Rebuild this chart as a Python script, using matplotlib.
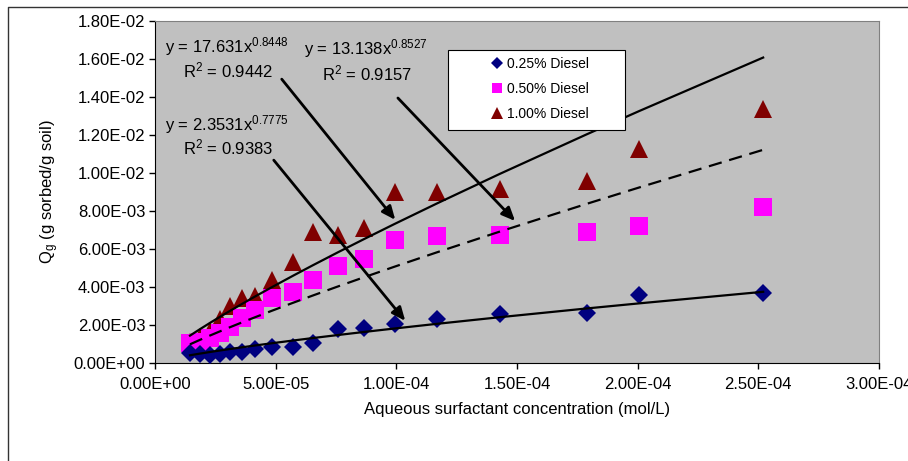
import numpy as np
import matplotlib
matplotlib.use("Agg")
import matplotlib.pyplot as plt
from matplotlib.ticker import FuncFormatter, MultipleLocator
from matplotlib.lines import Line2D
from matplotlib.patches import Rectangle, FancyArrowPatch

plt.rcParams['font.family'] = ['Liberation Sans', 'DejaVu Sans']
plt.rcParams['mathtext.fontset'] = 'custom'
plt.rcParams['mathtext.rm'] = 'Liberation Sans'
plt.rcParams['mathtext.it'] = 'Liberation Sans:italic'

# aqueous surfactant concentration (mol/L)
conc = [1.45e-5, 1.86e-5, 2.28e-5, 2.69e-5, 3.10e-5, 3.60e-5, 4.14e-5, 4.84e-5,
        5.71e-5, 6.54e-5, 7.57e-5, 8.65e-5, 9.93e-5, 1.167e-4, 1.428e-4,
        1.788e-4, 2.007e-4, 2.52e-4]

# sorbed amount Qg (g sorbed / g soil)
q_025 = [0.55e-3, 0.45e-3, 0.40e-3, 0.50e-3, 0.60e-3, 0.60e-3, 0.75e-3, 0.85e-3,
         0.85e-3, 1.05e-3, 1.80e-3, 1.85e-3, 2.05e-3, 2.30e-3, 2.60e-3,
         2.65e-3, 3.60e-3, 3.70e-3]
q_050 = [1.05e-3, 1.10e-3, 1.30e-3, 1.60e-3, 1.90e-3, 2.35e-3, 2.80e-3, 3.40e-3,
         3.75e-3, 4.35e-3, 5.10e-3, 5.50e-3, 6.50e-3, 6.70e-3, 6.75e-3,
         6.90e-3, 7.20e-3, 8.20e-3]
q_100 = [1.10e-3, 1.35e-3, 1.70e-3, 2.30e-3, 3.00e-3, 3.40e-3, 3.55e-3, 4.35e-3,
         5.30e-3, 6.90e-3, 6.75e-3, 7.10e-3, 9.00e-3, 9.00e-3, 9.15e-3,
         9.60e-3, 11.25e-3, 13.35e-3]

# power trendlines y = a * x^b as printed on the chart
fit_a = [2.3531, 13.138, 17.631]
fit_b = [0.7775, 0.8527, 0.8448]
fit_r2 = [0.9383, 0.9157, 0.9442]

labels = ["0.25% Diesel", "0.50% Diesel", "1.00% Diesel"]

W, H = 908, 461
FS = 12
fig = plt.figure(figsize=(W / 100, H / 100), dpi=100)
ax = fig.add_axes([155 / W, 1 - 363 / H, 724 / W, 342 / H])
ax.set_facecolor('#C0C0C0')

x = np.array(conc)
ax.plot(x, q_100, linestyle='none', marker='^', ms=13, color='#800000', mew=0, zorder=2)
ax.plot(x, q_050, linestyle='none', marker='s', ms=12.5, color='#FF00FF', mew=0, zorder=3)
ax.plot(x, q_025, linestyle='none', marker='D', ms=9.5, color='#000080', mew=0, zorder=4)

styles = ['-', (0, (6, 3.5)), '-']
for a, b, ls in zip(fit_a, fit_b, styles):
    ax.plot(x, a * x ** b, color='black', lw=1.6, linestyle=ls, zorder=5)

ax.set_xlim(0, 3e-4)
ax.set_ylim(0, 0.018)
ax.xaxis.set_major_locator(MultipleLocator(5e-5))
ax.yaxis.set_major_locator(MultipleLocator(2e-3))
fmt = FuncFormatter(lambda v, p: f"{v:.2E}")
ax.xaxis.set_major_formatter(fmt)
ax.yaxis.set_major_formatter(fmt)
ax.tick_params(direction='out', length=4, width=1, labelsize=FS, pad=3, colors='black')
ax.tick_params(axis='x', pad=6)
for s in ['top', 'right']:
    ax.spines[s].set_color('#808080')
for s in ['left', 'bottom']:
    ax.spines[s].set_color('black')

ax.set_xlabel("Aqueous surfactant concentration (mol/L)", fontsize=FS, labelpad=7)
ax.set_ylabel("Q$_\\mathrm{g}$ (g sorbed/g soil)", fontsize=FS, labelpad=9)

# legend: white box with black edge, entries inside
fig.add_artist(Rectangle((448 / W, 1 - 130 / H), 177 / W, 80 / H, transform=fig.transFigure,
                         facecolor='white', edgecolor='black', lw=0.8, zorder=6))
leg = fig.legend(handles=[
    Line2D([], [], ls='none', marker='D', ms=6, color='#000080', mew=0, label=labels[0]),
    Line2D([], [], ls='none', marker='s', ms=7, color='#FF00FF', mew=0, label=labels[1]),
    Line2D([], [], ls='none', marker='^', ms=8, color='#800000', mew=0, label=labels[2])],
    loc='upper left', bbox_to_anchor=(489 / W, 1 - 57 / H),
    fontsize=10, frameon=False, borderpad=0, labelspacing=0.8, handletextpad=0.1,
    handlelength=1.2, borderaxespad=0)
leg.set_zorder(7)

# trendline equation labels (positions in pixels from top-left)
def ftext(px, py, s):
    fig.text(px / W, 1 - py / H, s, fontsize=FS, va='center', ha='left')

ftext(165, 47, f"y = {fit_a[2]}x$^{{\\mathrm{{{fit_b[2]}}}}}$")
ftext(183, 70, f"R$^{{\\mathrm{{2}}}}$ = {fit_r2[2]}")
ftext(304, 49, f"y = {fit_a[1]}x$^{{\\mathrm{{{fit_b[1]}}}}}$")
ftext(322, 73, f"R$^{{\\mathrm{{2}}}}$ = {fit_r2[1]}")
ftext(165, 125, f"y = {fit_a[0]}x$^{{\\mathrm{{{fit_b[0]}}}}}$")
ftext(183, 147, f"R$^{{\\mathrm{{2}}}}$ = {fit_r2[0]}")

arrows = [((280, 77), (397, 222)), ((396, 96), (517, 223)), ((272, 158), (407, 323))]
for (x0, y0), (x1, y1) in arrows:
    fig.add_artist(FancyArrowPatch(
        (x0 / W, 1 - y0 / H), (x1 / W, 1 - y1 / H), transform=fig.transFigure,
        arrowstyle='-|>,head_length=8,head_width=3.5', color='black', lw=2, zorder=10))

# outer chart border
fig.add_artist(Line2D([8 / W, 8 / W, 1], [0, 1 - 7 / H, 1 - 7 / H],
                      transform=fig.transFigure, color='#333333', lw=1))

fig.savefig("out.png", dpi=100)
